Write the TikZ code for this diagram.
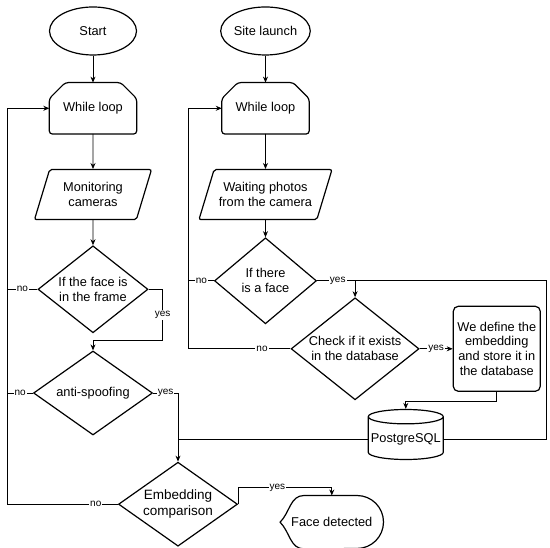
\documentclass[tikz,border=0pt]{standalone}
\usepackage{fontspec}
\setmainfont{Liberation Sans}
\usepackage{tikz}
\usetikzlibrary{arrows.meta,positioning,shapes.geometric,calc}
\newcommand{\flowfont}{\fontsize{12.8pt}{14.8pt}\selectfont}
\newcommand{\bigflowfont}{\fontsize{13.5pt}{15.5pt}\selectfont}
\newcommand{\lblfont}{\fontsize{10pt}{11pt}\selectfont}
\tikzset{
  term/.style={ellipse,draw,line width=1.2pt,minimum width=87pt,minimum height=48pt,inner sep=0pt,align=center,font=\flowfont},
  loopbox/.style={rectangle,minimum width=87pt,minimum height=51pt,font=\flowfont},
  io/.style={trapezium,trapezium left angle=60,trapezium right angle=120,trapezium stretches body,draw,line width=1.2pt,rounded corners=2pt,minimum width=117pt,minimum height=50pt,inner sep=1pt,align=center,font=\flowfont},
  decision/.style={diamond,aspect=1.3,draw,line width=1.2pt,inner sep=0pt,align=center,font=\flowfont},
  flow/.style={rectangle,rounded corners=5pt,draw,line width=1.2pt,minimum width=87pt,minimum height=85pt,align=center,font=\flowfont},
  datab/.style={cylinder,shape border rotate=90,aspect=0.2,draw,line width=1.2pt,minimum width=75pt,minimum height=50pt,inner sep=1pt,font=\flowfont},
  outline/.style={line width=1.2pt},
  arrow/.style={-{Stealth[length=6pt,width=5pt]},line width=0.8pt},
  line/.style={line width=0.8pt},
  lbl/.style={fill=white,inner sep=1pt,font=\lblfont}
}
\begin{document}
\begin{tikzpicture}[x=1pt,y=1pt,node distance=27pt and 83pt]
  \useasboundingbox (0,0) rectangle (550,548);
  \node[term] (start) at (93,517) {Start};
  \node[term, right=of start] (site) {Site launch};
  \node[loopbox, below=of start] (loopa) {While loop};
  \node[loopbox, below=of site] (loopb) {While loop};
  \node[io, below=35pt of loopa] (monitor) {Monitoring\\cameras};
  \node[io, below=35pt of loopb, minimum width=133pt] (waiting) {Waiting photos\\from the camera};
  \node[decision, below=25pt of monitor, minimum width=110pt, minimum height=87pt] (inframe) {If the face is\\in the frame};
  \node[decision, below=17pt of inframe, minimum width=119pt, minimum height=84pt] (spoof) {anti-spoofing};
  \node[decision, below=26pt of spoof, xshift=85pt, minimum width=119pt, minimum height=84pt, font=\bigflowfont] (compare) {Embedding\\comparison};
  \node[decision, below=17pt of waiting, minimum width=102pt, minimum height=86pt] (hasface) {If there\\is a face};
  \node[decision, minimum width=128pt, minimum height=102pt] (exists) at ($(hasface.east)+(38,-68)$) {Check if it exists\\in the database};
  \node[flow, right=33pt of exists] (store) {We define the\\embedding\\and store it in\\the database};
  \node[datab, below=17pt of store, xshift=-91pt] (db) {PostgreSQL};
  \node[right=42pt of compare, yshift=-18pt, minimum width=103pt, minimum height=53pt, font=\flowfont] (detected) {Face detected};
  % loop limit outlines
  \foreach \n in {loopa,loopb}
    \draw[outline, rounded corners=3pt] ([xshift=16pt]\n.north west) -- ([yshift=-16pt]\n.north west)
      -- (\n.south west) -- (\n.south east) -- ([yshift=-16pt]\n.north east)
      -- ([xshift=-16pt]\n.north east) -- cycle;
  % display shape round the result
  \draw[outline] ([xshift=24pt]detected.north west) -- ([xshift=-26.5pt]detected.north east)
    arc[start angle=90, end angle=-90, radius=26.5pt] -- ([xshift=24pt]detected.south west)
    to[out=180, in=-45] (detected.west) to[out=45, in=180] ([xshift=24pt]detected.north west) -- cycle;
  \coordinate (lloop) at ($(loopa.west)+(-42,0)$);
  \coordinate (rloop) at ($(loopb.west)+(-33,0)$);
  \coordinate (rline) at ($(store.east)+(6,0)$);
  % left column
  \draw[arrow] (start) -- (loopa);
  \draw[arrow] (loopa) -- (monitor);
  \draw[arrow] (monitor) -- (inframe);
  \draw[arrow] (inframe.east) -| node[lbl, pos=0.75]{yes} ++(14,-51) -| (spoof.north);
  \draw[line] (inframe.west) -- node[lbl]{no} (inframe.west -| lloop);
  \draw[line] (spoof.west) -- node[lbl]{no} (spoof.west -| lloop);
  \draw[arrow] (spoof.east) -| node[lbl, pos=0.25]{yes} (compare.north);
  \draw[arrow] (compare.west) -| node[lbl, pos=0.1]{no} (lloop) -- (loopa.west);
  \draw[arrow] (compare.east) |- node[lbl, pos=0.71]{yes} ([yshift=8pt]detected.north) -- (detected.north);
  % right column
  \draw[arrow] (site) -- (loopb);
  \draw[arrow] (loopb) -- (waiting);
  \draw[arrow] (waiting) -- (hasface);
  \draw[line] (hasface.west) -- node[lbl]{no} (hasface.west -| rloop);
  \draw[arrow] (exists.west) -| node[lbl, pos=0.14]{no} (rloop) -- (loopb.west);
  \draw[line] (hasface.east) -- node[lbl, pos=0.09]{yes} (hasface.east -| rline) |- (db.east);
  \draw[arrow] (hasface.east -| exists.north) -- (exists.north);
  \draw[arrow] (exists.east) -- node[lbl]{yes} (store.west);
  \draw[arrow] (store.south) -- ++(0,-9) -| (db.north);
  \draw[line] (db.west) -- (db.west -| compare.north);
\end{tikzpicture}
\end{document}
